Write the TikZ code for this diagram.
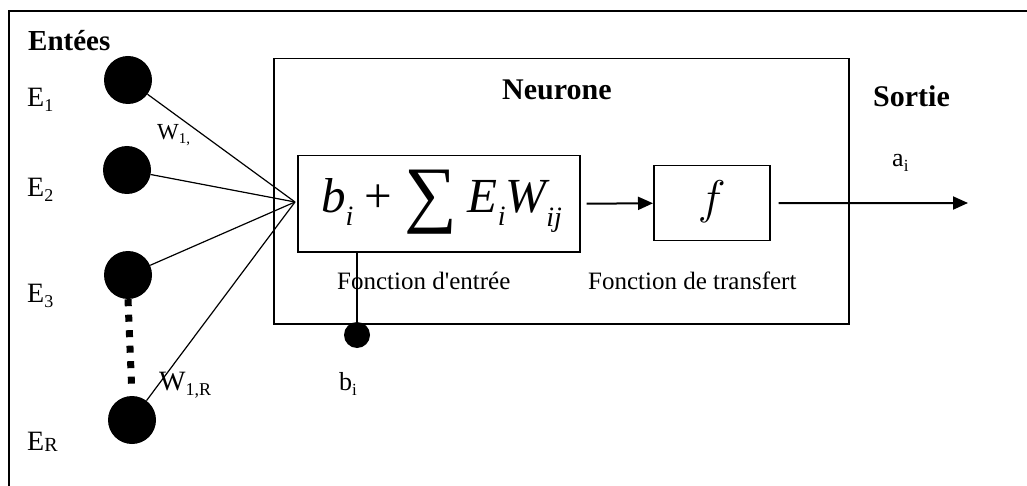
\documentclass[tikz,border=0pt]{standalone}
\usepackage{fontspec}
\setmainfont{Liberation Serif}
\usetikzlibrary{arrows.meta}
\newcommand\fsz[1]{\fontsize{#1}{#1}\selectfont}
\begin{document}
\begin{tikzpicture}[x=1pt,y=-1pt,
  dot/.style={circle,fill=black,minimum size=48pt,inner sep=0pt},
  bdot/.style={circle,fill=black,minimum size=26pt,inner sep=0pt},
  boxst/.style={draw,line width=1.5pt,inner sep=0pt},
  lbl/.style={inner sep=0pt,anchor=base west},
  conn/.style={line width=1.2pt},
  arr/.style={line width=2pt,-{Triangle[length=15pt,width=13pt]}}]
\useasboundingbox (0,0) rectangle (1027,486);
% outer frame (only left and top visible)
\coordinate (fbl) at (9,486);
\coordinate (ftl) at (9,11);
\coordinate (ftr) at (1027,11);
\draw[line width=2pt] (fbl) -- (ftl) -- (ftr);
% neurone box
\node[boxst,minimum width=575pt,minimum height=265pt,anchor=north west] (neur) at (273,58) {};
% input function box
\node[boxst,minimum width=282pt,minimum height=96pt,anchor=north west] (inb) at (297,155) {};
\node[inner sep=0pt,anchor=base west] (formula) at (321,213)
  {\fsz{49}\itshape b\raisebox{-13pt}{\fsz{28}i}\upshape\hspace{11pt}+\hspace{12pt}\raisebox{-6pt}{\fsz{74}∑}\hspace{11pt}\itshape E\raisebox{-13pt}{\fsz{28}i}W\raisebox{-14pt}{\fsz{28}ij}};
% transfer function box
\node[boxst,minimum width=116pt,minimum height=75pt,anchor=north west] (fb) at (653,165) {};
\node[inner sep=0pt,scale=1.9] (ftext) at ([yshift=2pt]fb.center) {\fsz{24}$f$};
% circles
\node[dot] (e1) at (128,80) {};
\node[dot] (e2) at (127,170) {};
\node[dot] (e3) at (128,275) {};
\node[dot] (er) at (132,420) {};
\node[bdot] (bias) at (357,335) {};
\coordinate (conv) at (295,202);
\draw[conn] (e1) -- (conv);
\draw[conn] (e2) -- (conv);
\draw[conn] (e3) -- (conv);
\draw[conn] (er) -- (conv);
\draw[line width=7pt,dash pattern=on 7pt off 8.5pt,shorten >=6pt] (e3.south) -- (er.north);
\draw[conn] (inb.south -| bias) -- (bias);
% arrows
\draw[arr,shorten <=6pt] (inb.east) -- (fb.west);
\coordinate (outend) at (968,203);
\draw[arr,shorten <=8pt] (fb.east) -- (outend);
% labels
\node[lbl] (tEnt) at (28,51) {\fsz{29}\bfseries Entées};
\node[lbl] (tNeur) at (502,100) {\fsz{30}\bfseries Neurone};
\node[lbl] (tSort) at (873,107) {\fsz{30}\bfseries Sortie};
\node[lbl] (tE1) at (27,107) {\fsz{28}E\raisebox{-5pt}{\fsz{18}1}};
\node[lbl] (tE2) at (27,197) {\fsz{28}E\raisebox{-5pt}{\fsz{18}2}};
\node[lbl] (tE3) at (27,302) {\fsz{28}E\raisebox{-5pt}{\fsz{18}3}};
\node[lbl] (tER) at (27,450) {\fsz{28}E\raisebox{-1pt}{\fsz{20}R}};
\node[lbl] (tW1) at (157,140) {\fsz{23}W\raisebox{-4pt}{\fsz{15}1,}};
\node[lbl] (tWR) at (159,390) {\fsz{28}W\raisebox{-5pt}{\fsz{18}1,R}};
\node[lbl] (tai) at (892,167) {\fsz{26}a\raisebox{-5pt}{\fsz{17}i}};
\node[lbl] (tbi) at (339,390) {\fsz{26}b\raisebox{-5pt}{\fsz{17}i}};
\node[lbl] (tFe) at (337,289) {\fsz{25}Fonction d\textquotesingle entrée};
\node[lbl] (tFt) at (588,289) {\fsz{25}Fonction de transfert};
\end{tikzpicture}
\end{document}
